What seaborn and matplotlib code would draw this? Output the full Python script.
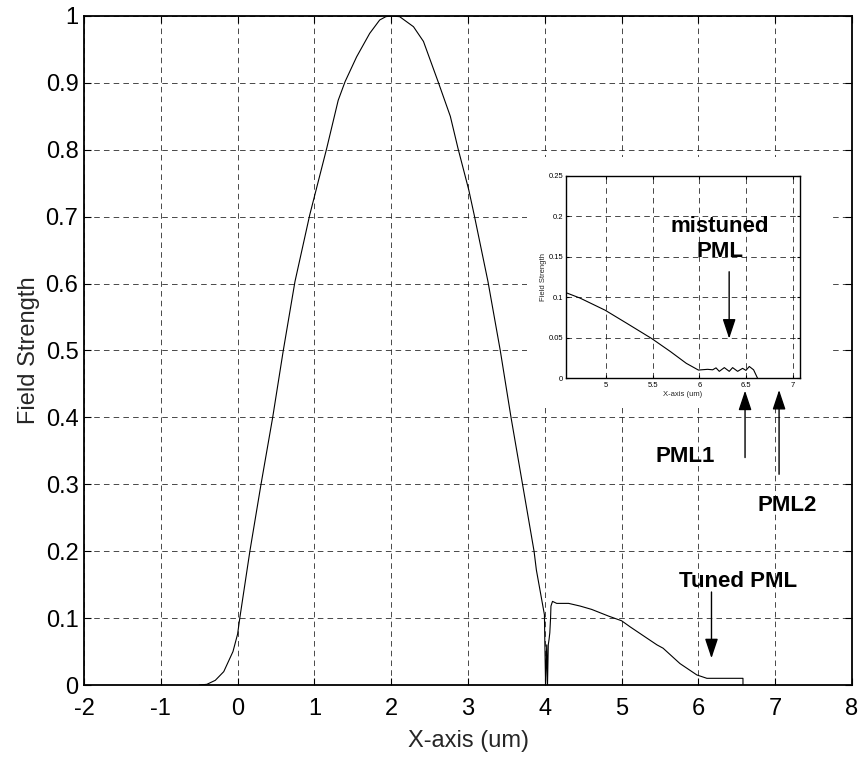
import numpy as np
import pandas as pd
import matplotlib
matplotlib.use("Agg")
import matplotlib.pyplot as plt
from matplotlib.patches import Rectangle
import seaborn as sns

# ---- data ----
main_x = [-0.50, -0.40, -0.29, -0.18, -0.06, 0.00, 0.03, 0.16, 0.305, 0.457, 0.595,
          0.747, 0.94, 1.16, 1.31, 1.40, 1.55, 1.72, 1.85, 1.93, 2.00, 2.11, 2.29, 2.42,
          2.61, 2.77, 2.87, 3.01, 3.08, 3.26, 3.42, 3.56, 3.71, 3.86, 3.89, 3.995,
          4.000, 4.010, 4.025, 4.035, 4.045,
          4.055, 4.065, 4.075, 4.080, 4.100, 4.155, 4.31, 4.46, 4.61, 4.72, 4.83,
          5.00, 5.11, 5.33, 5.46, 5.54, 5.76, 5.98, 6.11, 6.58, 6.58]
main_y = [0.000, 0.001, 0.007, 0.020, 0.050, 0.076, 0.101, 0.200, 0.300, 0.400, 0.500,
          0.603, 0.703, 0.802, 0.874, 0.902, 0.939, 0.974, 0.994, 0.999, 1.000, 0.999, 0.984, 0.962,
          0.902, 0.850, 0.802, 0.740, 0.703, 0.603, 0.500, 0.400, 0.300, 0.200, 0.172, 0.105,
          0.065, 0.000, 0.060, 0.000, 0.060,
          0.068, 0.078, 0.100, 0.118, 0.125, 0.122, 0.122, 0.118, 0.113, 0.108, 0.103,
          0.096, 0.087, 0.070, 0.060, 0.055, 0.032, 0.015, 0.010, 0.010, 0.000]

inset_x = [4.571, 4.72, 4.99, 5.22, 5.49, 5.69, 5.86, 5.99, 6.089, 6.143, 6.179, 6.214,
           6.268, 6.321, 6.357, 6.411, 6.464, 6.50, 6.536, 6.582, 6.625]
inset_y = [0.1056, 0.099, 0.084, 0.068, 0.049, 0.033, 0.0185, 0.0102, 0.0111, 0.0105,
           0.0129, 0.0086, 0.0132, 0.0086, 0.0132, 0.0086, 0.0123, 0.0098, 0.0146,
           0.0105, 0.0]

main_xticks = [-2, -1, 0, 1, 2, 3, 4, 5, 6, 7, 8]
main_yticks = [0, 0.1, 0.2, 0.3, 0.4, 0.5, 0.6, 0.7, 0.8, 0.9, 1]
main_yticklabels = ["0", "0.1", "0.2", "0.3", "0.4", "0.5", "0.6", "0.7", "0.8", "0.9", "1"]
inset_xticks = [5, 5.5, 6, 6.5, 7]
inset_xticklabels = ["5", "5.5", "6", "6.5", "7"]
inset_yticks = [0, 0.05, 0.1, 0.15, 0.2, 0.25]
inset_yticklabels = ["0", "0.05", "0.1", "0.15", "0.2", "0.25"]

sns.set_theme(style="ticks")
plt.rcParams['font.family'] = ['Liberation Sans', 'DejaVu Sans']
plt.rcParams['axes.unicode_minus'] = False

fig = plt.figure(figsize=(8.63, 7.58), dpi=100)
fig.patch.set_facecolor("white")

GRID = dict(color="black", linestyle=(0, (8, 6)), linewidth=0.5)
ARROW = dict(arrowstyle="-|>,head_length=0.6,head_width=0.2", color="black",
             lw=1.0, mutation_scale=20, shrinkA=0, shrinkB=0)


def style_axes(a, fs, tlen, lw, xpad, ypad):
    for s in a.spines.values():
        s.set_color("black")
        s.set_linewidth(lw)
        s.set_visible(True)
    a.tick_params(direction="in", top=True, right=True, length=tlen, width=0.8,
                  labelsize=fs, colors="black")
    a.tick_params(axis="x", pad=xpad)
    a.tick_params(axis="y", pad=ypad)
    a.grid(True, **GRID)
    a.set_facecolor("white")


# ---- main axes ----
ax = fig.add_axes([0.0973, 0.0963, 0.8900, 0.8826])
df = pd.DataFrame({"x": main_x, "y": main_y})
sns.lineplot(data=df, x="x", y="y", ax=ax, color="black", linewidth=0.8,
             sort=False, estimator=None)
ax.set_xlim(-2, 8)
ax.set_ylim(0, 1)
ax.set_xticks(main_xticks)
ax.set_xticklabels([str(t) for t in main_xticks])
ax.set_yticks(main_yticks)
ax.set_yticklabels(main_yticklabels)
style_axes(ax, 17, 5, 1.3, 9.5, 4)
ax.set_xlabel("X-axis (um)", fontsize=17, labelpad=7)
ax.set_ylabel("Field Strength", fontsize=17, labelpad=4)

# white backdrop of the pasted inset figure (hides main grid behind it)
ax.add_patch(Rectangle((3.768, 0.414), 7.714 - 3.768, 0.789 - 0.414,
                       facecolor="white", edgecolor="none", zorder=3))

TXT = dict(fontsize=16, fontweight="bold", ha="center", va="center", color="black",
           zorder=6)
ax.text(6.51, 0.154, "Tuned PML", **TXT)
ax.annotate("", xy=(6.17, 0.040), xytext=(6.17, 0.139), arrowprops=ARROW, zorder=6)
ax.text(5.83, 0.342, "PML1", **TXT)
ax.annotate("", xy=(6.607, 0.44), xytext=(6.607, 0.340), arrowprops=ARROW,
            annotation_clip=False, zorder=6)
ax.text(7.16, 0.268, "PML2", **TXT)
ax.annotate("", xy=(7.05, 0.441), xytext=(7.05, 0.315), arrowprops=ARROW,
            annotation_clip=False, zorder=6)

# ---- inset axes ----
axi = fig.add_axes([0.6559, 0.5009, 0.2711, 0.2673])
dfi = pd.DataFrame({"x": inset_x, "y": inset_y})
sns.lineplot(data=dfi, x="x", y="y", ax=axi, color="black", linewidth=0.8,
             sort=False, estimator=None)
axi.set_xlim(4.57, 7.08)
axi.set_ylim(0, 0.25)
axi.set_xticks(inset_xticks)
axi.set_xticklabels(inset_xticklabels)
axi.set_yticks(inset_yticks)
axi.set_yticklabels(inset_yticklabels)
style_axes(axi, 5.5, 2.5, 1.0, 3, 2)
axi.set_xlabel("X-axis (um)", fontsize=5.5, labelpad=1)
axi.set_ylabel("Field Strength", fontsize=5.5, labelpad=1)
axi.text(6.22, 0.1725, "mistuned\nPML", linespacing=1.25, **TXT)
axi.annotate("", xy=(6.32, 0.049), xytext=(6.32, 0.1315), arrowprops=ARROW, zorder=6)

fig.savefig("out.png", dpi=100, facecolor="white")
